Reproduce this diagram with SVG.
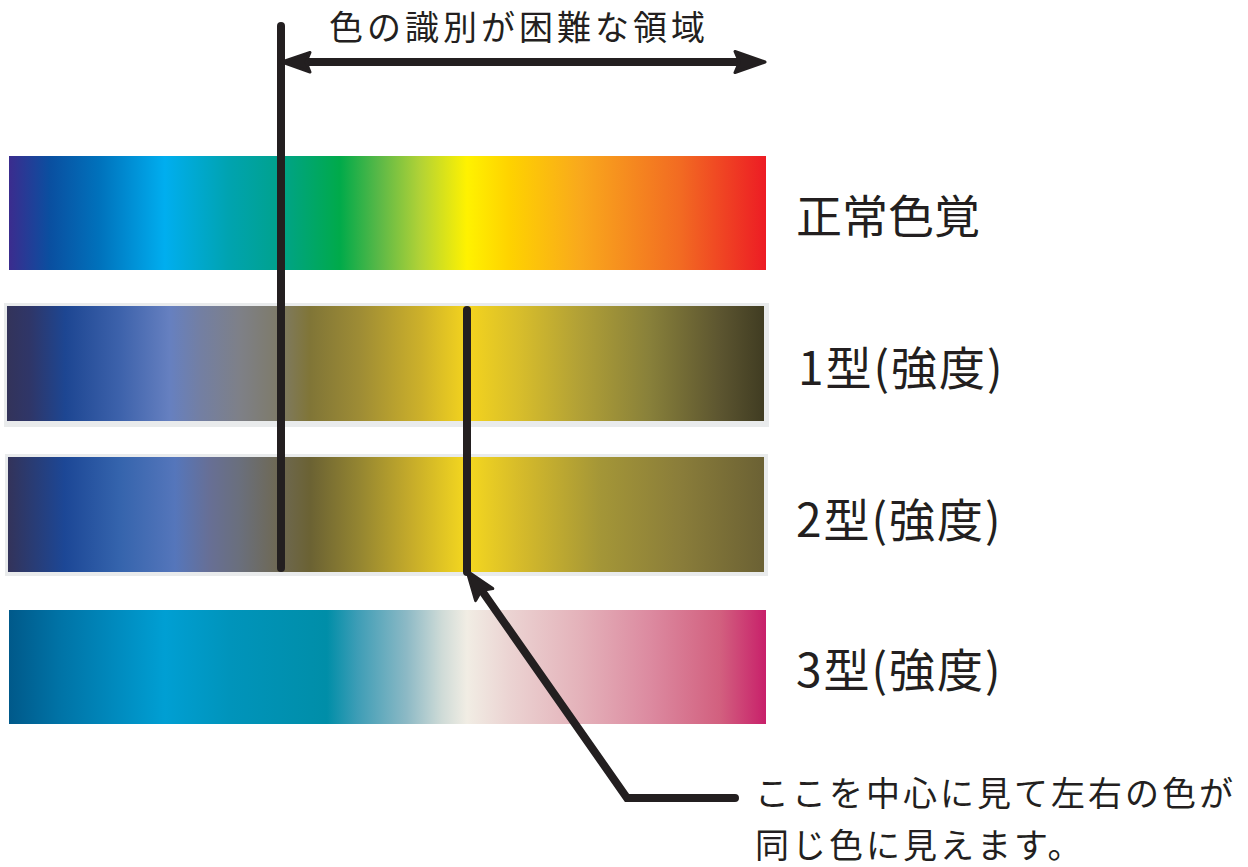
<svg xmlns="http://www.w3.org/2000/svg" width="1248" height="867" viewBox="0 0 1248 867">
<style>
  .lbl{font-family:"Noto Sans CJK JP","Noto Sans CJK SC",sans-serif;font-size:46px;fill:#231f20}
  .lbl2{letter-spacing:2px}
  .note{font-family:"Noto Sans CJK JP","Noto Sans CJK SC",sans-serif;font-size:34px;letter-spacing:3px;fill:#231f20}
  .top{font-size:34px;letter-spacing:4px}
  .ln{stroke:#231f20;stroke-width:8;fill:none;stroke-linecap:round}
  .head{fill:#231f20;stroke:#231f20;stroke-width:3;stroke-linejoin:round}
  .frame{fill:#e9ebec}
</style>
<defs>
  <linearGradient id="gNormal" x1="0" y1="0" x2="1" y2="0">
    <stop offset="0" stop-color="#3b2c8e"/>
    <stop offset="0.054" stop-color="#0a4fa0"/>
    <stop offset="0.12" stop-color="#0072bc"/>
    <stop offset="0.206" stop-color="#00aeef"/>
    <stop offset="0.29" stop-color="#00a3b0"/>
    <stop offset="0.351" stop-color="#00a290"/>
    <stop offset="0.437" stop-color="#00aa4a"/>
    <stop offset="0.49" stop-color="#5cb947"/>
    <stop offset="0.543" stop-color="#b1d236"/>
    <stop offset="0.605" stop-color="#fff200"/>
    <stop offset="0.662" stop-color="#fed200"/>
    <stop offset="0.754" stop-color="#f9a91c"/>
    <stop offset="0.886" stop-color="#f26b22"/>
    <stop offset="1" stop-color="#ed1c24"/>
  </linearGradient>
  <linearGradient id="gP" x1="0" y1="0" x2="1" y2="0">
    <stop offset="0" stop-color="#33335a"/>
    <stop offset="0.03" stop-color="#2f3668"/>
    <stop offset="0.077" stop-color="#1d4692"/>
    <stop offset="0.149" stop-color="#3d62ab"/>
    <stop offset="0.215" stop-color="#6680c0"/>
    <stop offset="0.255" stop-color="#737fa3"/>
    <stop offset="0.308" stop-color="#7e8087"/>
    <stop offset="0.354" stop-color="#7e7b6c"/>
    <stop offset="0.4" stop-color="#807537"/>
    <stop offset="0.466" stop-color="#9e8c35"/>
    <stop offset="0.546" stop-color="#ccb02a"/>
    <stop offset="0.608" stop-color="#f4d41e"/>
    <stop offset="0.678" stop-color="#d7bd2b"/>
    <stop offset="0.757" stop-color="#b1a036"/>
    <stop offset="0.849" stop-color="#88803a"/>
    <stop offset="0.942" stop-color="#5c5530"/>
    <stop offset="1" stop-color="#403c22"/>
  </linearGradient>
  <linearGradient id="gD" x1="0" y1="0" x2="1" y2="0">
    <stop offset="0" stop-color="#33335a"/>
    <stop offset="0.075" stop-color="#1c4796"/>
    <stop offset="0.148" stop-color="#3564ad"/>
    <stop offset="0.221" stop-color="#5576bb"/>
    <stop offset="0.267" stop-color="#676f95"/>
    <stop offset="0.307" stop-color="#6a6f7c"/>
    <stop offset="0.353" stop-color="#6e6957"/>
    <stop offset="0.4" stop-color="#6b6233"/>
    <stop offset="0.466" stop-color="#958631"/>
    <stop offset="0.532" stop-color="#c5ab2a"/>
    <stop offset="0.607" stop-color="#f5d81f"/>
    <stop offset="0.677" stop-color="#d6bb2a"/>
    <stop offset="0.783" stop-color="#a49637"/>
    <stop offset="0.889" stop-color="#8a7d3a"/>
    <stop offset="1" stop-color="#6b6134"/>
  </linearGradient>
  <linearGradient id="gT" x1="0" y1="0" x2="1" y2="0">
    <stop offset="0" stop-color="#00598a"/>
    <stop offset="0.067" stop-color="#0073a6"/>
    <stop offset="0.206" stop-color="#009fd3"/>
    <stop offset="0.292" stop-color="#0094bb"/>
    <stop offset="0.42" stop-color="#008ea8"/>
    <stop offset="0.46" stop-color="#3d9db6"/>
    <stop offset="0.525" stop-color="#8cb9c5"/>
    <stop offset="0.572" stop-color="#cfdbd7"/>
    <stop offset="0.605" stop-color="#f1ede4"/>
    <stop offset="0.662" stop-color="#ebd3d2"/>
    <stop offset="0.754" stop-color="#e4b2ba"/>
    <stop offset="0.847" stop-color="#dc8aa0"/>
    <stop offset="0.939" stop-color="#d2607f"/>
    <stop offset="1" stop-color="#c8206a"/>
  </linearGradient>
</defs>
<rect x="0" y="0" width="1248" height="867" fill="#ffffff"/>

<g id="normal">
  <rect x="9" y="156" width="757" height="114" fill="url(#gNormal)"/>
  <text class="lbl" x="796" y="233">正常色覚</text>
</g>
<g id="type1">
  <rect class="frame" x="4" y="303" width="765" height="124"/>
  <rect x="7" y="306" width="757" height="115" fill="url(#gP)"/>
  <text class="lbl lbl2" x="798" y="385">1型(強度)</text>
</g>
<g id="type2">
  <rect class="frame" x="5" y="454" width="763" height="122"/>
  <rect x="8" y="457" width="756" height="115" fill="url(#gD)"/>
  <text class="lbl lbl2" x="796" y="537">2型(強度)</text>
</g>
<g id="type3">
  <rect x="9" y="610" width="757" height="114" fill="url(#gT)"/>
  <text class="lbl lbl2" x="796" y="687">3型(強度)</text>
</g>

<g id="range-label">
  <text class="note top" x="329" y="40">色の識別が困難な領域</text>
</g>
<g id="note-label">
  <text class="note" x="755" y="806">ここを中心に見て左右の色が</text>
  <text class="note" x="755" y="858">同じ色に見えます。</text>
</g>

<g id="connectors">
  <line class="ln" x1="281" y1="26" x2="281" y2="568"/>
  <line class="ln" x1="300" y1="62" x2="745" y2="62" stroke-linecap="butt"/>
  <path class="head" d="M282,62 L310,52.5 L306,62 L310,72 Z"/>
  <path class="head" d="M765,62 L735,51.5 L739.5,62 L735,72.5 Z"/>
  <line class="ln" x1="467" y1="310" x2="467" y2="572" stroke-linecap="butt"/>
  <polyline class="ln" points="480,588 627,798 735,798" stroke-linejoin="miter"/>
  <path class="head" d="M467,571 L492.8,588.6 L481.4,590.5 L475.6,600.6 Z"/>
</g>
</svg>
